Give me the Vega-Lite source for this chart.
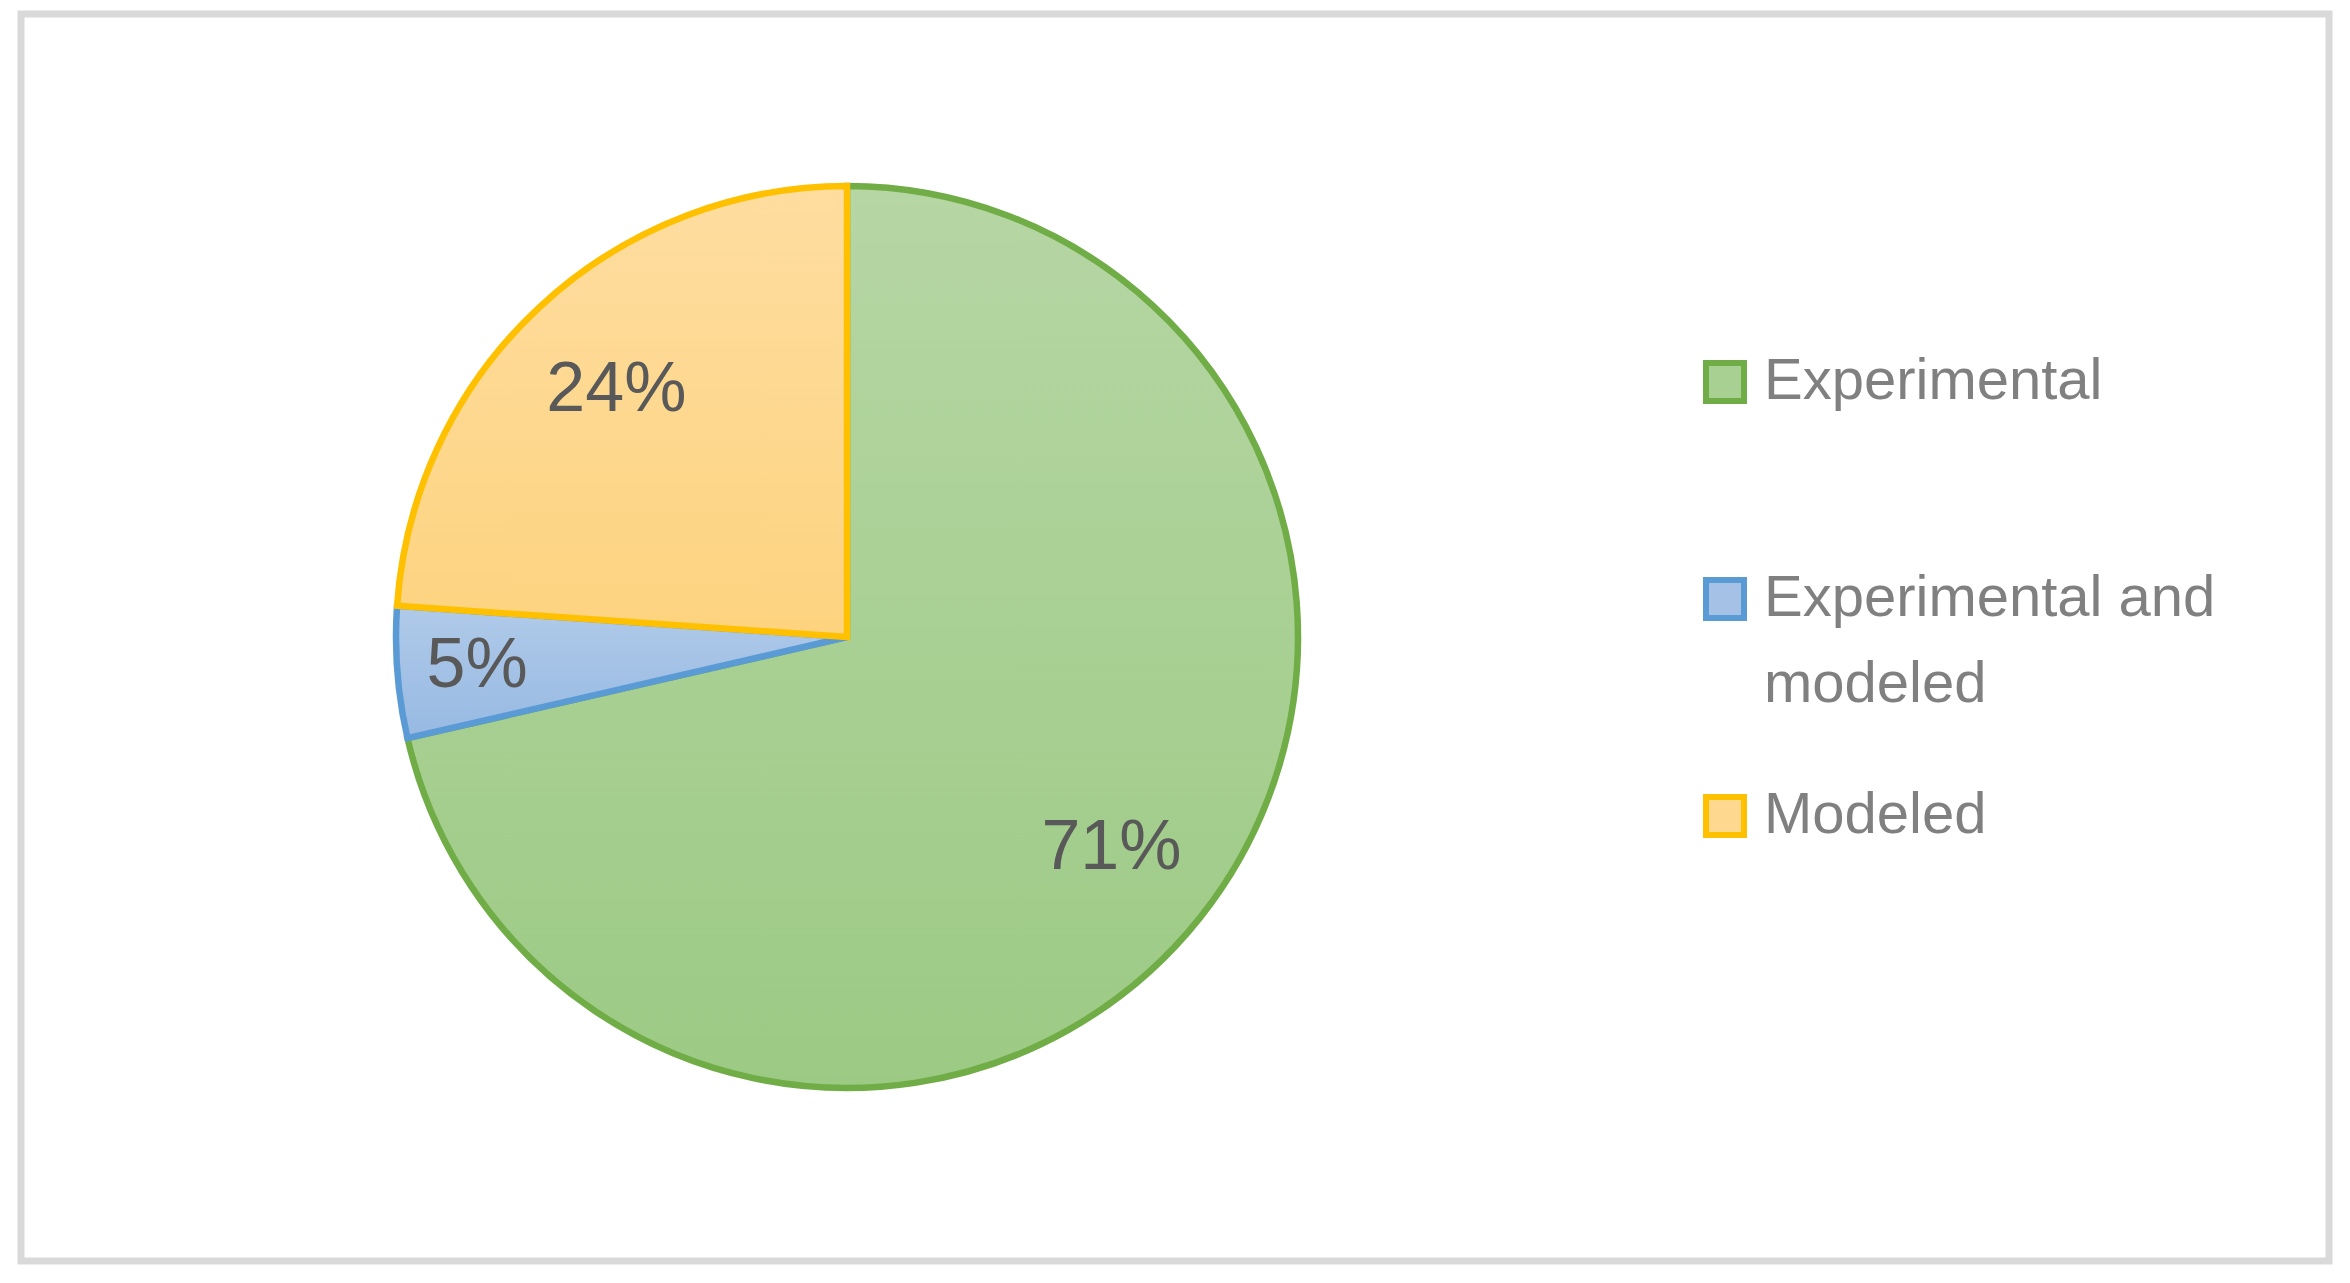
{
  "$schema": "https://vega.github.io/schema/vega-lite/v6.json",
  "width": 2350,
  "height": 1283,
  "autosize": {"type": "fit", "contains": "padding"},
  "padding": {"left": 21, "top": 14, "right": 21, "bottom": 22},
  "background": "white",
  "config": {
    "view": {"stroke": "#d9d9d9", "strokeWidth": 7},
    "style": {"guide-label": {"lineHeight": 86}}
  },
  "data": {
    "values": [
      {"category": "Experimental", "share": 71.4, "label": "71%"},
      {"category": "Experimental and modeled", "share": 4.7, "label": "5%"},
      {"category": "Modeled", "share": 23.9, "label": "24%"}
    ]
  },
  "layer": [
    {
      "mark": {"type": "arc", "radius": 0},
      "encoding": {
        "x": {"value": 826},
        "y": {"value": 623},
        "fill": {
          "field": "category",
          "type": "nominal",
          "scale": {
            "domain": ["Experimental", "Experimental and modeled", "Modeled"],
            "range": ["#a9d093", "#a5c2e6", "#fdd88e"]
          },
          "legend": {
            "orient": "none",
            "legendX": 1675,
            "legendY": 339,
            "title": null,
            "padding": 0,
            "symbolType": "square",
            "symbolSize": 1444,
            "symbolStrokeWidth": 6,
            "symbolOpacity": 1,
            "labelFontSize": 58,
            "labelFont": "Liberation Sans, Arial, sans-serif",
            "labelColor": "#808080",
            "labelOffset": 10,
            "labelLimit": 1000,
            "rowPadding": 71,
            "labelExpr": "datum.label === 'Experimental and modeled' ? ['Experimental and', 'modeled'] : datum.label === 'Experimental' ? ['Experimental', ' '] : datum.label"
          }
        },
        "stroke": {
          "field": "category",
          "type": "nominal",
          "legend": {
            "orient": "none",
            "legendX": 1675,
            "legendY": 339,
            "title": null,
            "padding": 0,
            "symbolType": "square",
            "symbolSize": 1444,
            "symbolStrokeWidth": 6,
            "symbolOpacity": 1,
            "labelFontSize": 58,
            "labelFont": "Liberation Sans, Arial, sans-serif",
            "labelColor": "#808080",
            "labelOffset": 10,
            "labelLimit": 1000,
            "rowPadding": 71,
            "labelExpr": "datum.label === 'Experimental and modeled' ? ['Experimental and', 'modeled'] : datum.label === 'Experimental' ? ['Experimental', ' '] : datum.label"
          }
        }
      }
    },
    {
      "mark": {"type": "arc", "radius": 451, "strokeWidth": 6.5, "strokeJoin": "miter"},
      "encoding": {
        "theta": {"field": "share", "type": "quantitative", "stack": true},
        "order": {"field": "category", "type": "nominal", "sort": "ascending"},
        "x": {"value": 826},
        "y": {"value": 623},
        "stroke": {
          "field": "category",
          "type": "nominal",
          "scale": {
            "domain": ["Experimental", "Experimental and modeled", "Modeled"],
            "range": ["#70ad47", "#5b9bd5", "#ffc000"]
          },
          "legend": {
            "orient": "none",
            "legendX": 1675,
            "legendY": 339,
            "title": null,
            "padding": 0,
            "symbolType": "square",
            "symbolSize": 1444,
            "symbolStrokeWidth": 6,
            "symbolOpacity": 1,
            "labelFontSize": 58,
            "labelFont": "Liberation Sans, Arial, sans-serif",
            "labelColor": "#808080",
            "labelOffset": 10,
            "labelLimit": 1000,
            "rowPadding": 71,
            "labelExpr": "datum.label === 'Experimental and modeled' ? ['Experimental and', 'modeled'] : datum.label === 'Experimental' ? ['Experimental', ' '] : datum.label"
          }
        },
        "fill": {
          "condition": [
            {
              "test": "datum.category === 'Experimental'",
              "value": {
                "gradient": "linear", "x1": 0, "y1": 0, "x2": 0, "y2": 1,
                "stops": [{"offset": 0, "color": "#b6d6a4"}, {"offset": 1, "color": "#9cca84"}]
              }
            },
            {
              "test": "datum.category === 'Modeled'",
              "value": {
                "gradient": "linear", "x1": 0, "y1": 0, "x2": 0, "y2": 1,
                "stops": [{"offset": 0, "color": "#fedda0"}, {"offset": 1, "color": "#fdd37f"}]
              }
            }
          ],
          "value": {
            "gradient": "linear", "x1": 0, "y1": 0, "x2": 0, "y2": 1,
            "stops": [{"offset": 0, "color": "#b0cae9"}, {"offset": 1, "color": "#97b9e2"}]
          }
        }
      }
    },
    {
      "mark": {
        "type": "text",
        "fontSize": 70,
        "font": "Liberation Sans, Arial, sans-serif",
        "color": "#595959",
        "radius": {"expr": "datum.category === 'Experimental and modeled' ? 371 : 338"}
      },
      "encoding": {
        "theta": {"field": "share", "type": "quantitative", "stack": true},
        "order": {"field": "category", "type": "nominal", "sort": "ascending"},
        "x": {"value": 826},
        "y": {"value": 623},
        "text": {"field": "label", "type": "nominal"}
      }
    }
  ]
}
